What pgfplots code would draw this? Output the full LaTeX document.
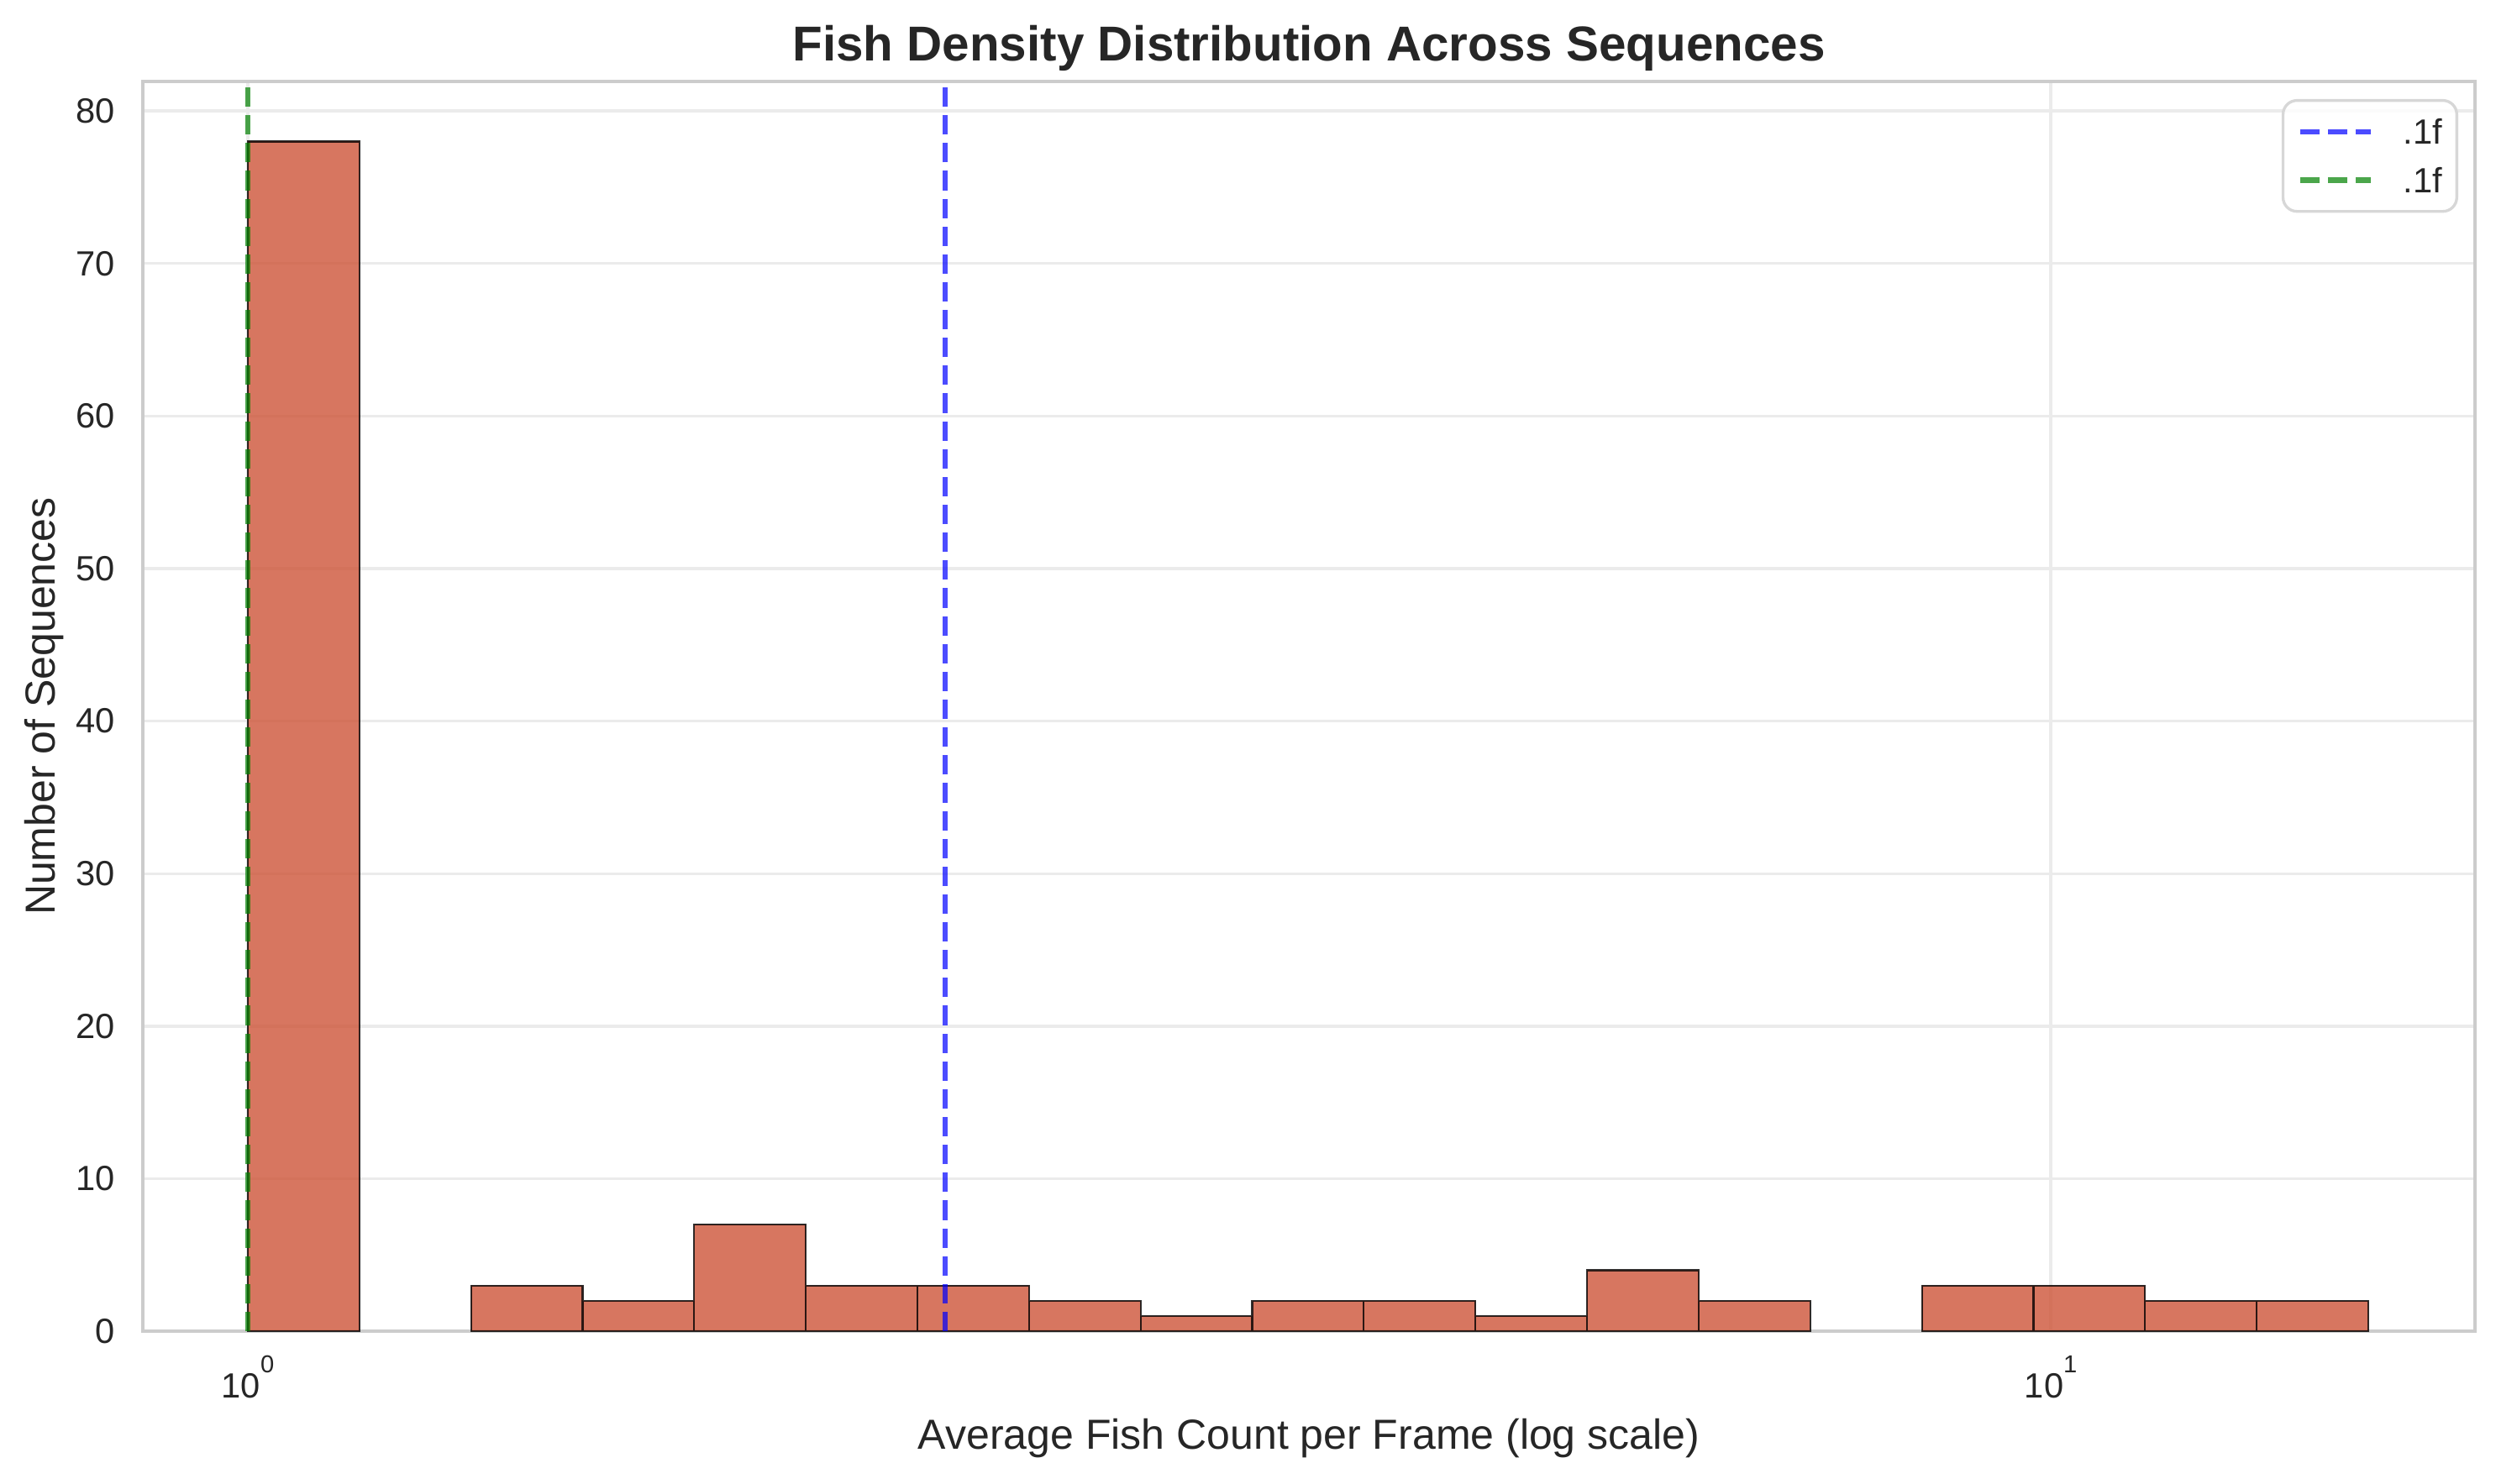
\documentclass[border=0pt]{standalone}
\usepackage{pgfplots}
\pgfplotsset{compat=1.18}
\usepackage{fontspec}
\setmainfont{Liberation Sans}
\definecolor{txt}{RGB}{38,38,38}
\definecolor{spine}{RGB}{204,204,204}
\definecolor{gridc}{RGB}{235,235,235}
\definecolor{legc}{RGB}{215,215,215}
\definecolor{barc}{RGB}{205,84,56}
\newcommand{\dec}[1]{10\raisebox{7.2pt}{\fontsize{7}{8}\selectfont #1}}
\begin{document}
\begin{tikzpicture}
\path[use as bounding box] (-40.8pt,-43.4pt) rectangle (672pt,380.3pt);
\begin{axis}[
  scale only axis, width=666pt, height=357pt,
  xmode=log, xmin=0.8745, xmax=17.19, ymin=0, ymax=81.93,
  xtick={1,10}, xticklabels={\dec{0},\dec{1}},
  ytick={0,10,...,80},
  major tick length=0pt, minor tick length=0pt,
  xmajorgrids, ymajorgrids,
  grid style={gridc, line width=0.8pt},
  axis line style={spine, line width=0.8pt},
  tick style={draw=none},
  /pgf/number format/assume math mode=true,
  ticklabel style={font=\fontsize{10}{12}\selectfont, text=txt},
  yticklabel style={anchor=east, inner sep=0pt, xshift=-7.7pt},
  xticklabel style={anchor=base, inner sep=0pt, yshift=-19pt},
  every axis title shift=0pt,
  title={Fish Density Distribution Across Sequences},
  title style={font=\fontsize{14}{17}\selectfont\bfseries, text=txt, at={(axis description cs:0.5,1.0168)}, anchor=base, inner sep=0pt},
  xlabel={Average Fish Count per Frame (log scale)},
  xlabel style={font=\fontsize{12}{14}\selectfont, text=txt, at={(axis description cs:0.5,-0.0941)}, anchor=base, inner sep=0pt},
  ylabel={Number of Sequences},
  ylabel style={font=\fontsize{12}{14}\selectfont, text=txt, at={(axis description cs:-0.03754,0.5)}, anchor=base, inner sep=0pt},
  legend image code/.code={\draw[#1] (0pt,0pt) -- (20pt,0pt);},
  legend style={at={(axis description cs:1,1)}, anchor=north east, xshift=-4.8pt, yshift=-5pt,
    draw=legc, line width=0.8pt, rounded corners=4pt, fill=white, fill opacity=0.8, text opacity=1,
    font=\fontsize{10}{12}\selectfont, text=txt, inner xsep=4.2pt, inner ysep=5.3pt,
    nodes={inner sep=0pt, text height=7.2pt, text depth=0pt}, column sep=8.6pt, row sep=6.7pt},
  legend cell align=left,
]
\addplot[ybar interval, fill=barc, fill opacity=0.8, draw=black, draw opacity=0.8, line width=0.5pt, forget plot]
  coordinates {(1.00000,78) (1.15319,78)};
\addplot[ybar interval, fill=barc, fill opacity=0.8, draw=black, draw opacity=0.8, line width=0.5pt, forget plot]
  coordinates {(1.32984,3) (1.53355,2) (1.76847,7) (2.03938,3) (2.35178,3) (2.71205,2) (3.12749,1) (3.60658,2) (4.15907,2) (4.79618,1) (5.53089,4) (6.37814,2) (7.35519,2)};
\addplot[ybar interval, fill=barc, fill opacity=0.8, draw=black, draw opacity=0.8, line width=0.5pt, forget plot]
  coordinates {(8.48191,3) (9.78122,3) (11.27957,2) (13.00745,2) (15.00000,2)};
\addplot[draw=blue, draw opacity=0.7, line width=1.5pt, dash pattern=on 5.55pt off 2.4pt]
  coordinates {(2.436,0) (2.436,81.93)};
\addlegendentry{.1f}
\addplot[draw={rgb,255:red,0;green,128;blue,0}, draw opacity=0.7, line width=1.5pt, dash pattern=on 5.55pt off 2.4pt]
  coordinates {(1.0,0) (1.0,81.93)};
\addlegendentry{.1f}
\end{axis}
\end{tikzpicture}
\end{document}
